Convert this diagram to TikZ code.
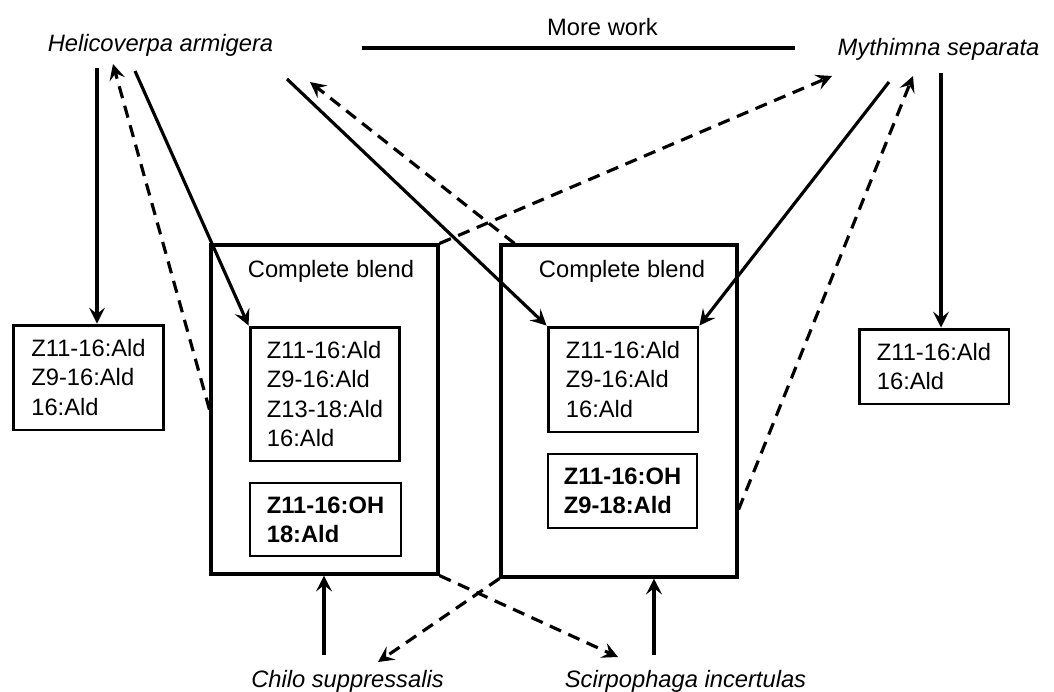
\documentclass[tikz,border=0pt]{standalone}
\usepackage{fontspec}
\setmainfont{Liberation Sans}
\usepackage{tikz}
\usetikzlibrary{arrows.meta, positioning, calc}

\begin{document}
\begin{tikzpicture}[ x=0.02cm, y=-0.02cm,
    font=\fontsize{13.5pt}{16.7pt}\selectfont, bigbox/.style={draw, line
      width=1.8pt, minimum width=4.54cm, minimum height=6.58cm},
    listbox/.style={draw, line width=1.7pt, align=left, minimum width=3cm,
      inner sep=0pt}, boldbox/.style={draw, line width=1pt, align=left,
      minimum width=3cm, inner sep=0pt,
      font=\fontsize{13.5pt}{16.7pt}\selectfont\bfseries},
    species/.style={font=\fontsize{13.5pt}{16.7pt}\selectfont\itshape,
      anchor=base, inner sep=0pt}, solidarrow/.style={line width=1.8pt,
      -{Stealth[length=9pt, width=9pt, inset=3.5pt]}},
    dashedarrow/.style={solidarrow, dash pattern=on 7pt off 4.5pt} ]

    \useasboundingbox (0,0) rectangle (1054,691);

    % Species names
    \node[species] (hel) at (160.5,51) {Helicoverpa armigera};
    \node[species] (myth) at (938.5,55) {Mythimna separata};
    \node[species] (chilo) at (347.5,687) {Chilo suppressalis};
    \node[species] (scirp) at (685.5,687) {Scirpophaga incertulas};

    % More work
    \node[anchor=base, inner sep=0pt] (more) at (602.5,35) {More work};
    \coordinate (mwl) at (362,48); \coordinate (mwr) at (795,48);
    \draw[line width=1.8pt] (mwl) -- (mwr);

    % Complete blends
    \node[bigbox] (box1) at (324.5,409.5) {}; \node[bigbox, minimum
    width=4.72cm, minimum height=6.64cm] (box2) at (619,411) {};
    \node[anchor=base] (blend1) at (331,277) {Complete blend};
    \node[anchor=base] (blend2) at (622,277) {Complete blend};

    \node[listbox, minimum height=2.68cm] (listA) at (325,394)
    {Z11-16:Ald\\Z9-16:Ald\\Z13-18:Ald\\16:Ald};
    \node[boldbox, minimum width=3.02cm, minimum height=1.46cm] (minorA) at
    (325.5,519.5) {Z11-16:OH\\18:Ald};
    \node[listbox, minimum height=2.1cm] (listB) at (623,379.5)
    {Z11-16:Ald\\Z9-16:Ald\\16:Ald};
    \node[boldbox, minimum width=2.98cm, minimum height=1.48cm] (minorB) at
    (622.5,491) {Z11-16:OH\\Z9-18:Ald};

    % Blends of single species
    \node[listbox, minimum width=3.02cm, minimum height=2.1cm] (helblend) at
    (88.5,377.5) {Z11-16:Ald\\Z9-16:Ald\\16:Ald};
    \node[listbox, minimum height=1.5cm] (mythblend) at (934,366.5)
    {Z11-16:Ald\\16:Ald};

    % Ends near the species names
    \coordinate (h1) at (97,68); \coordinate (h2) at (113,64);
    \coordinate (h3) at (135,71); \coordinate (h4) at (287,79);
    \coordinate (h5) at (310,82); \coordinate (m1) at (832,76);
    \coordinate (m2) at (889,82); \coordinate (m3) at (913,76);
    \coordinate (m4) at (941,73); \coordinate (c1) at (324,655);
    \coordinate (c2) at (378,662); \coordinate (s1) at (618,657);
    \coordinate (s2) at (654,655);

    % Solid arrows
    \draw[solidarrow] (h1) -- (h1 |- helblend.north); \draw[solidarrow] (h3)
    -- (listA.north west); \draw[solidarrow] (h4) -- (listB.north west);
    \draw[solidarrow] (m2) -- (listB.north east); \draw[solidarrow] (m4) --
    (m4 |- mythblend.north); \draw[solidarrow] (c1) -- (c1 |- box1.south);
    \draw[solidarrow] (s2) -- (s2 |- box2.south);

    % Dashed arrows
    \draw[dashedarrow] (box1.west) -- (h2); \draw[dashedarrow]
    ($(box2.north west)+(15,0)$) -- (h5); \draw[dashedarrow] (box1.north
    east) -- (m1); \draw[dashedarrow] ($(box2.south east)+(0,-69)$) -- (m3);
    \draw[dashedarrow] (box1.south east) -- (s1); \draw[dashedarrow]
    (box2.south west) -- (c2);

  \end{tikzpicture}
\end{document}
